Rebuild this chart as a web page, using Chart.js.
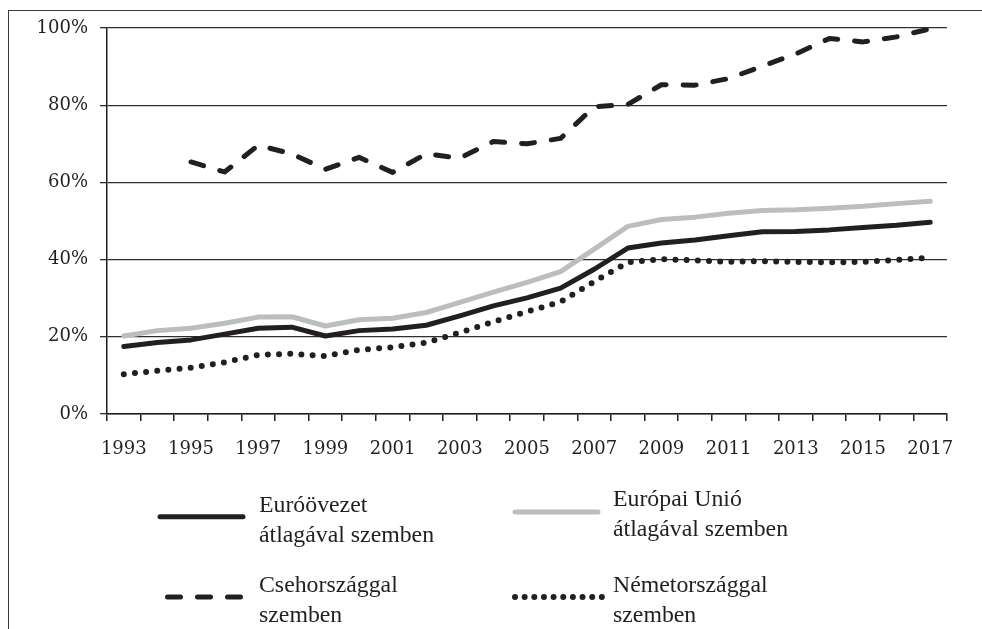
<!DOCTYPE html>
<html>
<head>
<meta charset="utf-8">
<script src="https://cdn.jsdelivr.net/npm/chart.js@4/dist/chart.umd.min.js"></script>
<style>
  html, body { margin: 0; padding: 0; background: #ffffff; }
  #wrap { position: relative; width: 982px; height: 629px; overflow: hidden; background: #fff; }
  #frame { position: absolute; left: 8px; top: 10px; width: 1200px; height: 900px;
           border-left: 1.5px solid #3a3a3a; border-top: 1.5px solid #3a3a3a; }
  canvas { position: absolute; left: 0; top: 0; }
  .lg { position: absolute; font-family: 'Liberation Serif', 'Times New Roman', serif;
        font-size: 23.8px; line-height: 30px; color: #231f20; white-space: nowrap; }
  .sw { position: absolute; overflow: visible; }
</style>
</head>
<body>
<div id="wrap">
  <div id="frame"></div>
  <canvas id="c" width="982" height="629"></canvas>

  <svg class="sw" style="left:150px;top:506px" width="110" height="20">
    <line x1="10" y1="10.7" x2="93" y2="10.7" stroke="#231f20" stroke-width="5" stroke-linecap="round"/>
  </svg>
  <div class="lg" style="left:259px;top:489px">Euróövezet<br>átlagával szemben</div>

  <svg class="sw" style="left:505px;top:502px" width="110" height="20">
    <line x1="10" y1="10" x2="93" y2="10" stroke="#bcbdc0" stroke-width="5" stroke-linecap="round"/>
  </svg>
  <div class="lg" style="left:613px;top:483px">Európai Unió<br>átlagával szemben</div>

  <svg class="sw" style="left:155px;top:587px" width="110" height="20">
    <line x1="12.5" y1="10" x2="88" y2="10" stroke="#231f20" stroke-width="5" stroke-linecap="round" stroke-dasharray="13 17"/>
  </svg>
  <div class="lg" style="left:259px;top:569px">Csehországgal<br>szemben</div>

  <svg class="sw" style="left:505px;top:587px" width="110" height="20">
    <line x1="10" y1="10" x2="97" y2="10" stroke="#231f20" stroke-width="6" stroke-linecap="round" stroke-dasharray="0 9.65"/>
  </svg>
  <div class="lg" style="left:613px;top:569px">Németországgal<br>szemben</div>
</div>
<script>
const years = ['1993','1994','1995','1996','1997','1998','1999','2000','2001','2002','2003','2004','2005','2006','2007','2008','2009','2010','2011','2012','2013','2014','2015','2016','2017'];
const seriesNames = ['Euróövezet átlagával szemben','Európai Unió átlagával szemben','Csehországgal szemben','Németországgal szemben'];
const euroArea = [17.5,18.5,19.2,20.7,22.2,22.5,20.2,21.6,22.0,23.0,25.4,28.0,30.1,32.6,37.5,43.0,44.3,45.1,46.2,47.2,47.3,47.7,48.3,48.9,49.7];
const euUnion  = [20.2,21.6,22.2,23.5,25.1,25.2,22.8,24.4,24.8,26.3,28.9,31.6,34.1,36.9,42.7,48.6,50.4,51.0,52.0,52.7,52.9,53.3,53.8,54.5,55.1];
const czech    = [null,null,65.3,62.7,69.6,67.4,63.4,66.5,62.6,67.4,66.3,70.6,70.0,71.4,79.6,80.2,85.3,85.2,86.9,90.1,93.3,97.3,96.4,97.7,99.8];
const germany  = [10.3,11.2,12.0,13.4,15.3,15.6,15.0,16.6,17.3,18.5,21.1,23.9,26.5,29.1,34.3,39.3,40.1,39.8,39.4,39.6,39.4,39.3,39.4,39.9,40.5];
const yTicks = [0,20,40,60,80,100];

const ink = '#231f20';
const axisFont = { family: "'DejaVu Serif', serif", size: 18 };

new Chart(document.getElementById('c'), {
  type: 'line',
  data: {
    labels: years,
    datasets: [
      { label: seriesNames[1], data: euUnion, borderColor: '#bcbdc0', borderWidth: 5, pointRadius: 0, tension: 0,
        borderJoinStyle: 'round', borderCapStyle: 'round' },
      { label: seriesNames[0], data: euroArea, borderColor: ink, borderWidth: 5, pointRadius: 0, tension: 0,
        borderJoinStyle: 'round', borderCapStyle: 'round' },
      { label: seriesNames[3], data: germany, borderColor: ink, borderWidth: 6, pointRadius: 0, tension: 0,
        borderDash: [0, 11.2], borderCapStyle: 'round', borderJoinStyle: 'round' },
      { label: seriesNames[2], data: czech, borderColor: ink, borderWidth: 5, pointRadius: 0, tension: 0,
        borderDash: [13, 17], borderCapStyle: 'round', borderJoinStyle: 'round' }
    ]
  },
  options: {
    responsive: false,
    animation: false,
    layout: { padding: { top: 28, right: 35, left: 0, bottom: 0 } },
    plugins: { legend: { display: false }, tooltip: { enabled: false } },
    scales: {
      x: {
        type: 'category',
        offset: true,
        afterFit: s => { s.height = 215; },
        grid: { offset: true, drawOnChartArea: false, drawTicks: true, tickLength: 7, color: ink, lineWidth: 1.5 },
        border: { display: true, color: ink, width: 1.5 },
        ticks: {
          autoSkip: false, maxRotation: 0, minRotation: 0, padding: 18, color: ink, font: axisFont,
          callback: function(v, i) { return i % 2 === 0 ? years[i] : ''; }
        }
      },
      y: {
        min: 0, max: 100,
        afterFit: s => { s.width = 107; },
        afterBuildTicks: s => { s.ticks = yTicks.map(v => ({ value: v })); },
        grid: { color: '#2e2e2e', lineWidth: 1.3, drawTicks: true, tickLength: 7 },
        border: { display: true, color: ink, width: 1.5 },
        ticks: { padding: 12, color: ink, font: axisFont, callback: v => v + '%' }
      }
    }
  }
});
</script>
</body>
</html>
